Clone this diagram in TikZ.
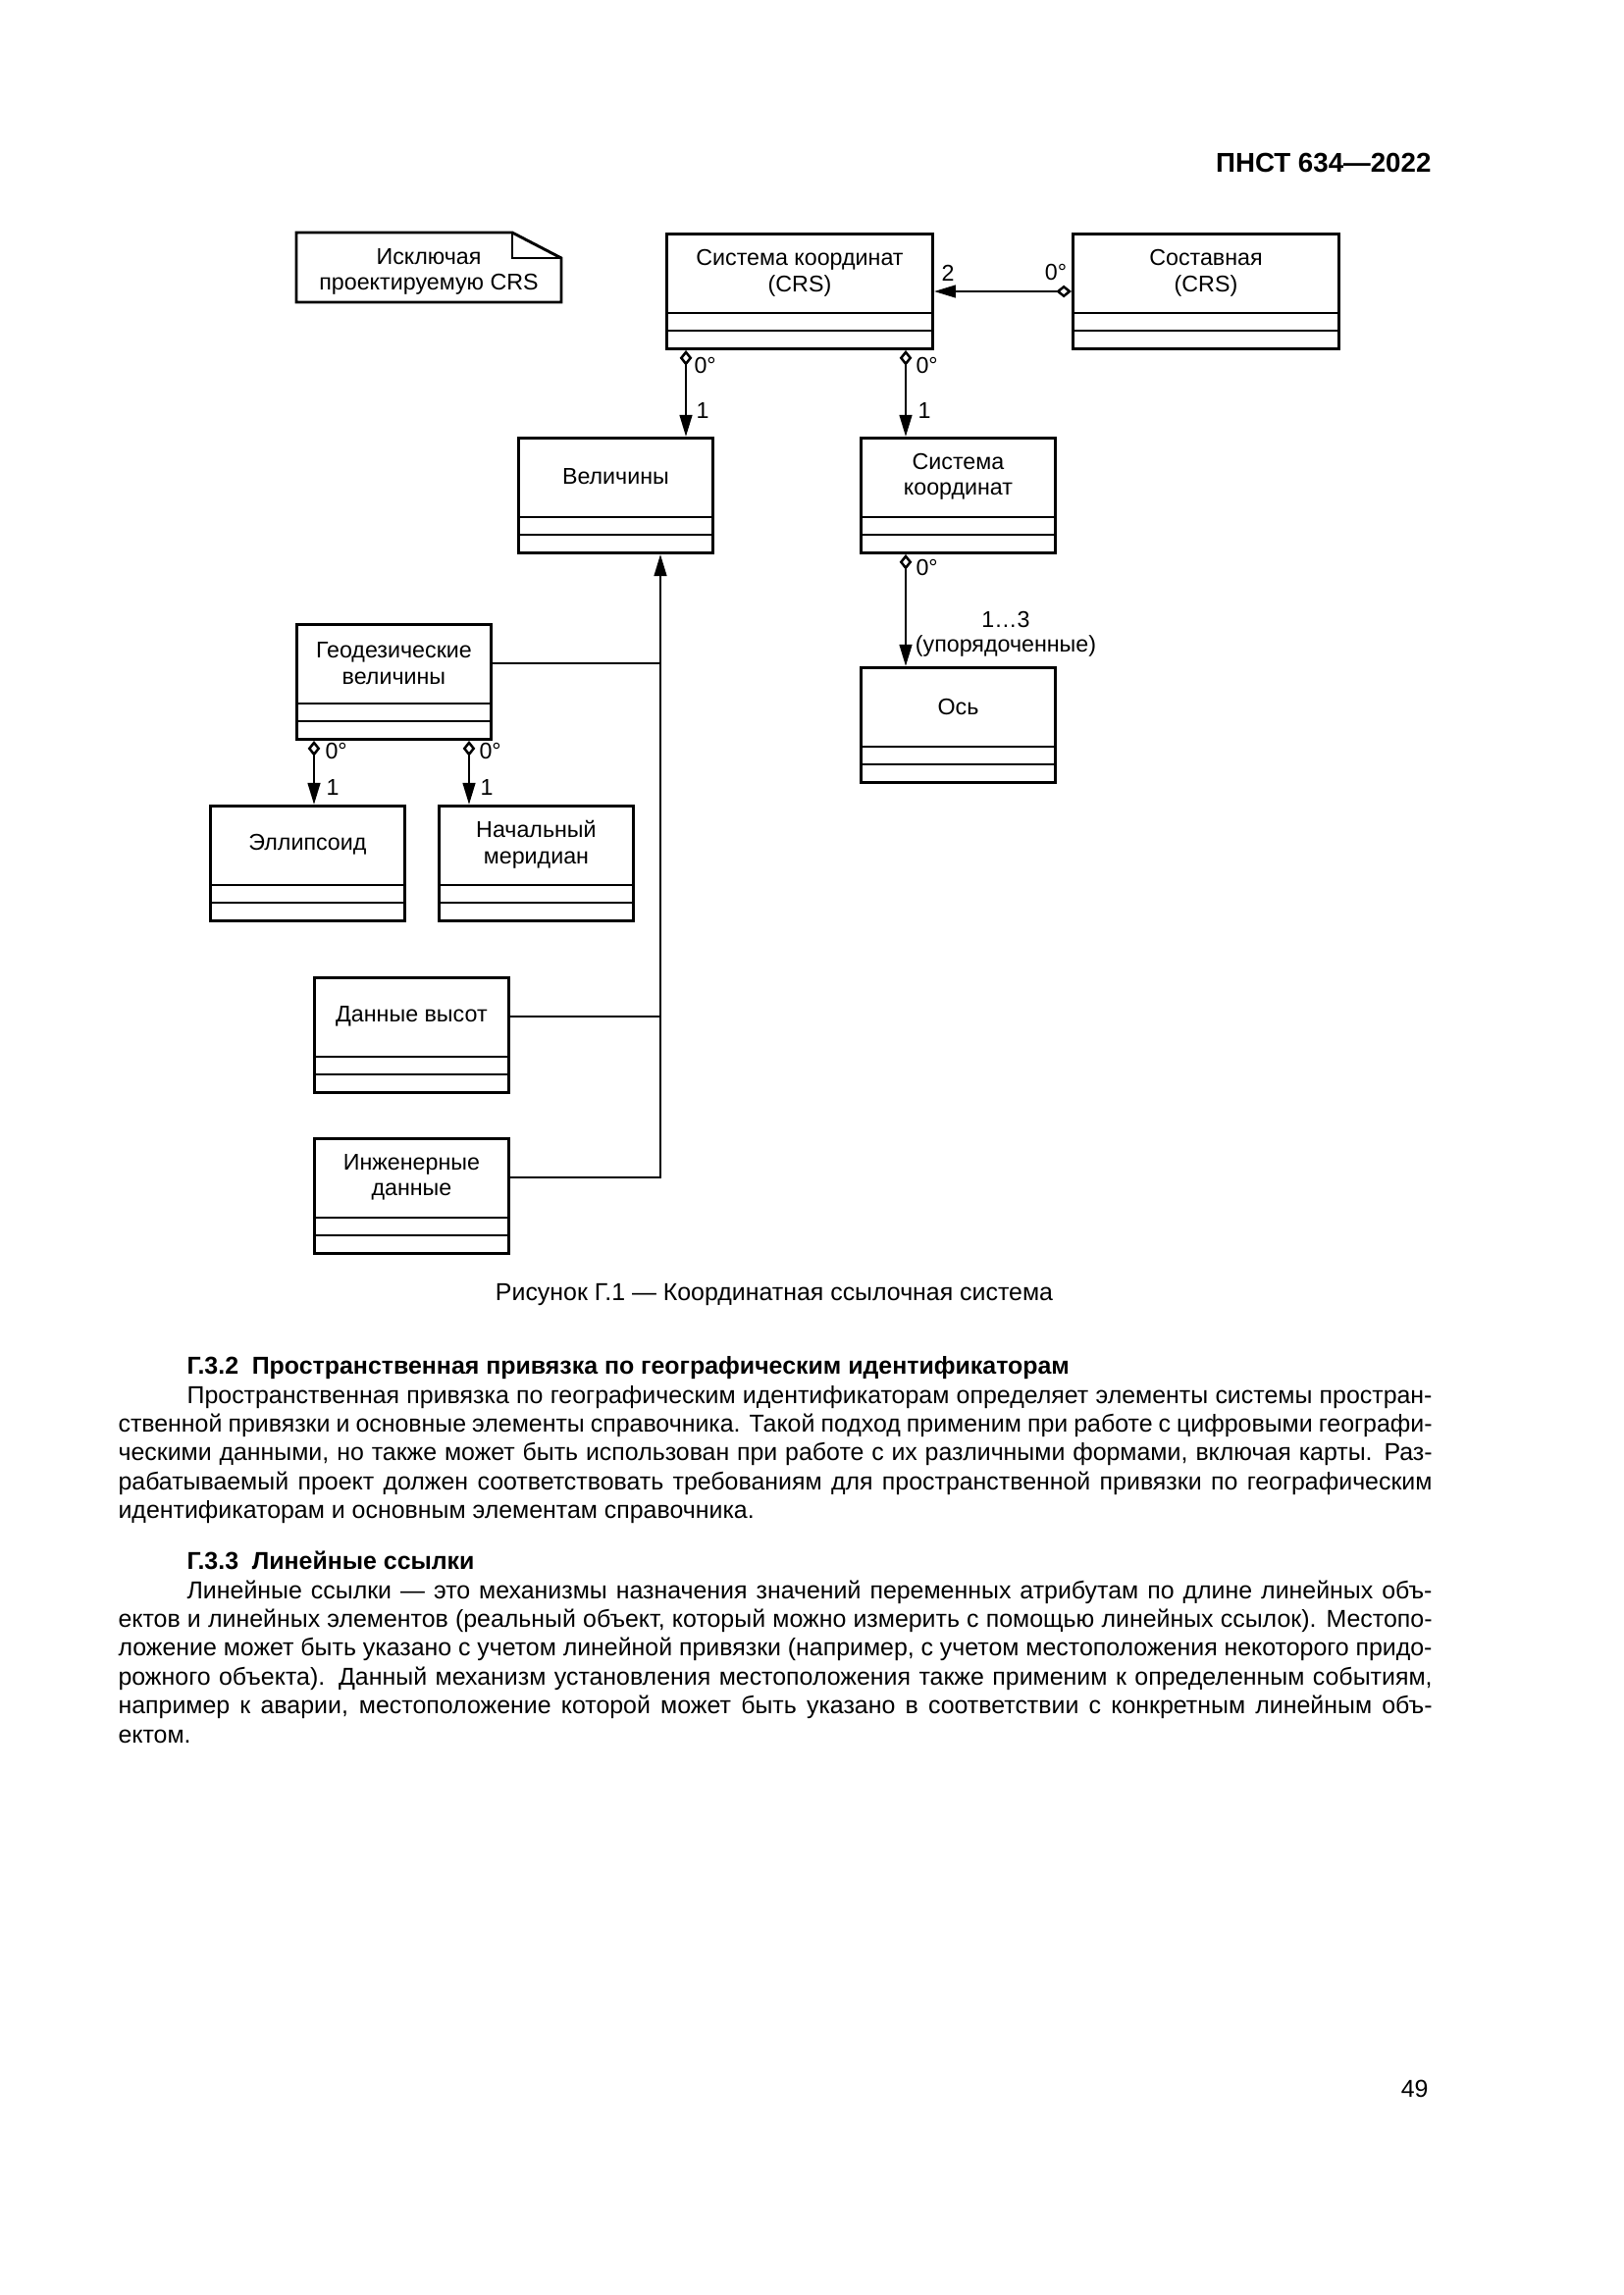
\documentclass[tikz,border=0pt]{standalone}
\usepackage{fontspec}
\setmainfont{Liberation Sans}
\usetikzlibrary{arrows.meta,calc}
\newcommand{\umlclass}[5]{%
  \node[clsbox, minimum width=#4, anchor=north west] (#1) at (#2,#3) {};
  \node[clstext] (#1-name) at ($(#1.north)+(0,41)$) {#5};
  \draw[divline] ($(#1.north west)+(0,82)$) -- ($(#1.north east)+(0,82)$);
  \draw[divline] ($(#1.north west)+(0,100)$) -- ($(#1.north east)+(0,100)$);
}
\newcommand{\jl}[1]{\hbox to \hsize{#1}}
\newcommand{\nl}[1]{\hbox{#1}}
\begin{document}
\begin{tikzpicture}[x=0.12697mm,y=-0.12697mm,
  clsbox/.style={draw, line width=1.05pt, inner sep=0, minimum height=14.86mm},
  clstext/.style={align=center, inner sep=0, font=\fontsize{8.4}{9.6}\selectfont},
  divline/.style={line width=1.05pt},
  conn/.style={line width=0.9pt},
  agg/.style={conn, {Diamond[open,length=2mm,width=1.6mm,line width=0.9pt]}-{Triangle[length=2.8mm,width=1.6mm]}},
  lbl/.style={inner sep=0, font=\fontsize{8.4}{9.6}\selectfont},
  bodytext/.style={inner sep=0, anchor=base west}]
\fill[white] (0,0) rectangle (1654,2339);
\useasboundingbox (0,0) rectangle (1654,2339);

% header
\node[inner sep=0, anchor=base east, font=\bfseries\fontsize{10}{12}\selectfont] (hdr) at (1459,175) {ПНСТ 634—2022};

% note
\draw[line width=1.05pt] (302,237) -- (522,237) -- (572,263) -- (572,308) -- (302,308) -- cycle;
\draw[line width=1.05pt] (522,237) -- (522,263) -- (572,263);
\node[clstext] (note) at (437,277) {Исключая\\проектируемую CRS};

% classes
\umlclass{crs}{678}{237}{34.41mm}{Система координат\\(CRS)}
\umlclass{comp}{1092}{237}{34.41mm}{Составная\\(CRS)}
\umlclass{vel}{527}{445}{25.14mm}{Величины}
\umlclass{cs}{876}{445}{25.14mm}{Система\\координат}
\umlclass{axis}{876}{679}{25.14mm}{Ось}
\umlclass{geo}{301}{635}{25.14mm}{Геодезические\\величины}
\umlclass{ell}{213}{820}{25.14mm}{Эллипсоид}
\umlclass{pm}{446}{820}{25.14mm}{Начальный\\меридиан}
\umlclass{hgt}{319}{995}{25.14mm}{Данные высот}
\umlclass{eng}{319}{1159}{25.14mm}{Инженерные\\данные}

% aggregations
\coordinate (p1) at ($(vel.north west)+(172,0)$);
\draw[agg] (p1 |- crs.south) -- (p1);
\coordinate (p2) at ($(cs.north west)+(47,0)$);
\draw[agg] (p2 |- crs.south) -- (p2);
\coordinate (p3) at ($(axis.north west)+(47,0)$);
\draw[agg] (p3 |- cs.south) -- (p3);
\coordinate (p4) at ($(comp.north west)+(0,60)$);
\draw[agg] (p4) -- (p4 -| crs.east);
\coordinate (p5) at ($(ell.north west)+(107,0)$);
\draw[agg] (p5 |- geo.south) -- (p5);
\coordinate (p6) at ($(pm.north west)+(32,0)$);
\draw[agg] (p6 |- geo.south) -- (p6);

% generalization tree
\coordinate (gtop) at ($(vel.south west)+(146,0)$);
\coordinate (g1) at ($(geo.north east)+(0,41)$);
\coordinate (h1) at ($(hgt.north east)+(0,41)$);
\coordinate (e1) at ($(eng.north east)+(0,41)$);
\draw[conn,-{Triangle[length=2.8mm,width=1.6mm]}] (e1) -| (gtop);
\draw[conn] (g1) -- (g1 -| gtop);
\draw[conn] (h1) -- (h1 -| gtop);

% multiplicities
\node[lbl, anchor=west] (m1a) at (707,372) {0°};
\node[lbl, anchor=west] (m1b) at (709,418) {1};
\node[lbl, anchor=west] (m2a) at (933,372) {0°};
\node[lbl, anchor=west] (m2b) at (935,418) {1};
\node[lbl] (m3a) at (966,278) {2};
\node[lbl] (m3b) at (1076,277) {0°};
\node[lbl, anchor=west] (m4a) at (933,578) {0°};
\node[lbl] (m4b) at (1025,631) {1…3};
\node[lbl] (m4c) at (1025,658) {(упорядоченные)};
\node[lbl, anchor=west] (m5a) at (331,765) {0°};
\node[lbl, anchor=west] (m5b) at (332,802) {1};
\node[lbl, anchor=west] (m6a) at (488,765) {0°};
\node[lbl, anchor=west] (m6b) at (489,802) {1};

% caption
\node[inner sep=0, anchor=base, font=\fontsize{9}{10.6}\selectfont] (cap) at (789,1325) {Рисунок Г.1 — Координатная ссылочная система};

% section G.3.2
\node[bodytext, font=\bfseries\fontsize{9}{10.6}\selectfont] (h32) at (190,1400) {Г.3.2\hspace{0.55em}Пространственная привязка по географическим идентификаторам};
\node[bodytext] (par1) at (120,1430) {\vtop{\hsize=170mm\fontsize{9}{10.63}\selectfont
\jl{\hspace*{8.9mm}Пространственная привязка по географическим идентификаторам определяет элементы системы простран-}
\jl{ственной привязки и основные элементы справочника. Такой подход применим при работе с цифровыми географи-}
\jl{ческими данными, но также может быть использован при работе с их различными формами, включая карты. Раз-}
\jl{рабатываемый проект должен соответствовать требованиям для пространственной привязки по географическим}
\nl{идентификаторам и основным элементам справочника.}}};

% section G.3.3
\node[bodytext, font=\bfseries\fontsize{9}{10.6}\selectfont] (h33) at (190,1599) {Г.3.3\hspace{0.55em}Линейные ссылки};
\node[bodytext] (par2) at (120,1629) {\vtop{\hsize=170mm\fontsize{9}{10.63}\selectfont
\jl{\hspace*{8.9mm}Линейные ссылки — это механизмы назначения значений переменных атрибутам по длине линейных объ-}
\jl{ектов и линейных элементов (реальный объект, который можно измерить с помощью линейных ссылок). Местопо-}
\jl{ложение может быть указано с учетом линейной привязки (например, с учетом местоположения некоторого придо-}
\jl{рожного объекта). Данный механизм установления местоположения также применим к определенным событиям,}
\jl{например к аварии, местоположение которой может быть указано в соответствии с конкретным линейным объ-}
\nl{ектом.}}};

% page number
\node[inner sep=0, anchor=base east, font=\fontsize{9}{10.6}\selectfont] (pg) at (1456,2137) {49};
\end{tikzpicture}
\end{document}
